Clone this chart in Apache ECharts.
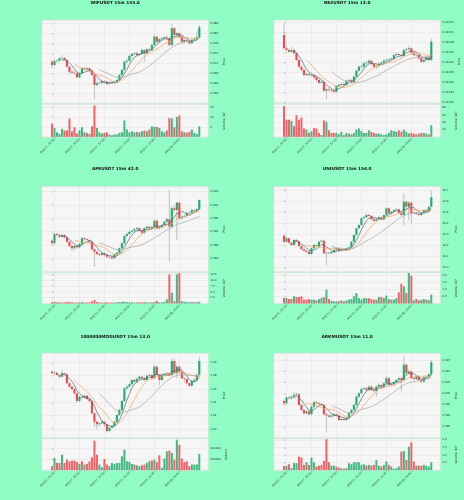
<!DOCTYPE html>
<html lang="en">
<head>
<meta charset="UTF-8">
<title>15m candles</title>
<script src="https://cdn.jsdelivr.net/npm/echarts@6.0.0/dist/echarts.min.js"></script>
<style>
    html, body { margin: 0; padding: 0; background: #8ffdc4; }
    #main { width: 464px; height: 500px; }
</style>
</head>
<body>
<div id="main"></div>
<script>
// date ticks (candle index) shared by all panels
var tickIdx = [1, 11, 21, 31, 41, 51];
var tickLabels = ['Aug 07, 12:30', 'Aug 07, 15:00', 'Aug 07, 17:30', 'Aug 07, 20:00', 'Aug 07, 22:30', 'Aug 08, 01:00'];

// WIFUSDT
var wifOpen0 = 0.9725;
var wifClose = [0.9715,0.9727,0.9728,0.9735,0.9736,0.9730,0.9710,0.9695,0.9692,0.9690,0.9678,0.9690,0.9705,0.9702,0.9705,0.9698,0.9685,0.9655,0.9660,0.9662,0.9667,0.9665,0.9658,0.9660,0.9662,0.9665,0.9670,0.9685,0.9700,0.9725,0.9728,0.9742,0.9748,0.9750,0.9745,0.9748,0.9760,0.9750,0.9762,0.9760,0.9775,0.9800,0.9785,0.9792,0.9795,0.9798,0.9795,0.9775,0.9825,0.9805,0.9810,0.9800,0.9785,0.9790,0.9788,0.9780,0.9790,0.9792,0.9798,0.9828];
var wifHigh = [0.9730,0.9732,0.9733,0.9738,0.9745,0.9739,0.9733,0.9712,0.9699,0.9697,0.9693,0.9693,0.9708,0.9709,0.9708,0.9707,0.9700,0.9688,0.9665,0.9666,0.9671,0.9670,0.9668,0.9664,0.9665,0.9668,0.9673,0.9688,0.9703,0.9728,0.9733,0.9746,0.9752,0.9754,0.9755,0.9752,0.9764,0.9763,0.9766,0.9766,0.9779,0.9805,0.9803,0.9796,0.9799,0.9802,0.9805,0.9800,0.9838,0.9829,0.9814,0.9813,0.9803,0.9794,0.9793,0.9791,0.9794,0.9796,0.9815,0.9835];
var wifLow = [0.9705,0.9712,0.9722,0.9725,0.9731,0.9727,0.9706,0.9688,0.9688,0.9686,0.9675,0.9675,0.9687,0.9699,0.9698,0.9694,0.9681,0.9612,0.9650,0.9656,0.9658,0.9661,0.9654,0.9655,0.9657,0.9659,0.9662,0.9668,0.9682,0.9697,0.9720,0.9725,0.9738,0.9744,0.9741,0.9742,0.9745,0.9725,0.9747,0.9756,0.9757,0.9772,0.9781,0.9782,0.9789,0.9791,0.9790,0.9770,0.9772,0.9800,0.9801,0.9796,0.9781,0.9782,0.9784,0.9776,0.9777,0.9786,0.9789,0.9795];
var wifVol = [6.7,4.5,2.3,1.5,4.0,3.2,3.3,9.2,2.8,4.8,1.7,3.3,4.8,2.3,2.0,1.5,5.3,15.7,4.5,2.3,1.7,2.0,2.3,1.2,0.8,1.2,1.2,2.0,2.3,8.2,3.7,2.3,2.8,2.3,2.5,2.3,2.8,3.2,2.8,3.7,5.3,5.0,5.0,4.5,2.8,2.3,3.3,9.5,9.2,4.8,10.0,10.7,2.8,2.3,2.0,2.5,3.7,2.0,1.5,5.3];

// REZUSDT
var rezOpen0 = 0.012503;
var rezClose = [0.012463,0.012458,0.012453,0.012458,0.012448,0.012428,0.012408,0.012398,0.012383,0.012386,0.012383,0.012383,0.012376,0.012368,0.012360,0.012363,0.012336,0.012340,0.012338,0.012336,0.012333,0.012350,0.012353,0.012356,0.012353,0.012366,0.012368,0.012363,0.012378,0.012396,0.012408,0.012408,0.012418,0.012420,0.012426,0.012416,0.012408,0.012410,0.012416,0.012420,0.012426,0.012428,0.012430,0.012432,0.012443,0.012446,0.012443,0.012440,0.012458,0.012460,0.012463,0.012450,0.012443,0.012443,0.012433,0.012423,0.012428,0.012436,0.012428,0.012483];
var rezHigh = [0.012536,0.012470,0.012462,0.012468,0.012462,0.012452,0.012431,0.012412,0.012401,0.012390,0.012389,0.012388,0.012386,0.012379,0.012371,0.012367,0.012366,0.012345,0.012344,0.012342,0.012340,0.012353,0.012357,0.012360,0.012360,0.012369,0.012372,0.012371,0.012381,0.012399,0.012412,0.012414,0.012422,0.012425,0.012430,0.012429,0.012419,0.012414,0.012420,0.012424,0.012430,0.012432,0.012434,0.012436,0.012447,0.012450,0.012450,0.012447,0.012462,0.012464,0.012470,0.012466,0.012453,0.012447,0.012446,0.012436,0.012431,0.012439,0.012439,0.012493];
var rezLow = [0.012460,0.012454,0.012449,0.012450,0.012444,0.012425,0.012404,0.012393,0.012379,0.012380,0.012379,0.012379,0.012372,0.012364,0.012356,0.012357,0.012332,0.012310,0.012333,0.012332,0.012329,0.012330,0.012346,0.012350,0.012349,0.012350,0.012362,0.012359,0.012360,0.012375,0.012393,0.012403,0.012405,0.012414,0.012416,0.012412,0.012404,0.012400,0.012406,0.012412,0.012416,0.012422,0.012424,0.012426,0.012429,0.012439,0.012439,0.012436,0.012437,0.012454,0.012456,0.012447,0.012439,0.012438,0.012429,0.012419,0.012420,0.012425,0.012424,0.012425];
var rezVol = [84,47,47,44,29,59,47,53,23,20,11,15,24,23,11,5,45,41,18,11,11,11,7,14,5,11,9,7,11,20,23,16,11,11,18,14,11,9,9,7,5,7,11,18,16,14,18,14,20,14,9,11,9,7,9,11,11,9,7,32];

// APEUSDT
var apeOpen0 = 0.5893;
var apeClose = [0.5885,0.5913,0.5910,0.5905,0.5910,0.5903,0.5890,0.5877,0.5870,0.5877,0.5873,0.5883,0.5900,0.5897,0.5895,0.5890,0.5867,0.5860,0.5853,0.5850,0.5855,0.5850,0.5845,0.5843,0.5840,0.5852,0.5857,0.5870,0.5885,0.5907,0.5913,0.5920,0.5923,0.5927,0.5930,0.5923,0.5917,0.5930,0.5935,0.5930,0.5933,0.5953,0.5930,0.5935,0.5940,0.5950,0.5957,0.5935,0.5990,0.5985,0.6007,0.5960,0.5965,0.5967,0.5975,0.5977,0.5985,0.5983,0.5987,0.6015];
var apeHigh = [0.5897,0.5916,0.5917,0.5914,0.5913,0.5913,0.5906,0.5893,0.5880,0.5881,0.5880,0.5886,0.5904,0.5903,0.5901,0.5898,0.5893,0.5870,0.5863,0.5857,0.5858,0.5858,0.5853,0.5848,0.5847,0.5855,0.5860,0.5873,0.5888,0.5910,0.5917,0.5924,0.5927,0.5931,0.5934,0.5933,0.5926,0.5933,0.5939,0.5938,0.5937,0.5957,0.5956,0.5939,0.5944,0.5954,0.5961,0.6045,0.5995,0.5997,0.6010,0.6010,0.5969,0.5971,0.5979,0.5981,0.5989,0.5988,0.5991,0.6017];
var apeLow = [0.5881,0.5882,0.5906,0.5901,0.5902,0.5899,0.5886,0.5873,0.5863,0.5866,0.5869,0.5870,0.5880,0.5893,0.5891,0.5886,0.5863,0.5815,0.5849,0.5846,0.5847,0.5846,0.5841,0.5839,0.5836,0.5837,0.5849,0.5854,0.5867,0.5882,0.5903,0.5909,0.5916,0.5919,0.5923,0.5919,0.5913,0.5913,0.5926,0.5926,0.5926,0.5929,0.5926,0.5926,0.5931,0.5936,0.5946,0.5830,0.5930,0.5980,0.5895,0.5955,0.5955,0.5961,0.5963,0.5971,0.5973,0.5979,0.5979,0.5983];
var apeVol = [0.6,0.8,0.5,0.5,0.4,0.5,0.6,0.7,0.5,0.4,0.4,0.5,0.6,0.4,0.4,0.5,0.9,1.5,0.6,0.5,0.4,0.4,0.5,0.4,0.4,0.4,0.5,0.6,0.7,0.8,0.6,0.5,0.5,0.4,0.4,0.5,0.5,0.6,0.5,0.4,0.5,0.6,1.1,0.5,0.5,0.7,1.8,12.5,4.6,1.0,12.5,13.0,1.0,0.7,0.6,0.5,0.6,0.5,0.6,0.7];

// UNIUSDT
var uniOpen0 = 10.285;
var uniClose = [10.234,10.264,10.225,10.204,10.249,10.240,10.195,10.165,10.153,10.144,10.123,10.174,10.204,10.195,10.234,10.243,10.129,10.135,10.129,10.141,10.159,10.174,10.153,10.165,10.159,10.174,10.183,10.234,10.294,10.354,10.384,10.444,10.453,10.474,10.465,10.435,10.423,10.435,10.453,10.435,10.474,10.534,10.489,10.504,10.519,10.525,10.495,10.474,10.594,10.549,10.585,10.489,10.495,10.483,10.474,10.495,10.519,10.504,10.549,10.633];
var uniHigh = [10.298,10.276,10.270,10.231,10.258,10.258,10.246,10.201,10.171,10.159,10.150,10.180,10.213,10.210,10.243,10.252,10.249,10.144,10.141,10.147,10.165,10.180,10.180,10.171,10.171,10.180,10.189,10.240,10.300,10.360,10.393,10.453,10.465,10.486,10.483,10.474,10.444,10.444,10.462,10.462,10.480,10.543,10.540,10.510,10.525,10.534,10.531,10.501,10.669,10.603,10.600,10.594,10.504,10.501,10.489,10.501,10.525,10.525,10.555,10.693];
var uniLow = [10.222,10.228,10.219,10.195,10.198,10.231,10.186,10.159,10.144,10.135,10.114,10.117,10.168,10.189,10.189,10.228,10.120,10.015,10.123,10.123,10.135,10.153,10.147,10.147,10.153,10.153,10.168,10.177,10.228,10.288,10.348,10.378,10.438,10.447,10.459,10.426,10.411,10.417,10.429,10.429,10.426,10.468,10.480,10.483,10.498,10.513,10.486,10.465,10.384,10.540,10.430,10.399,10.480,10.474,10.465,10.465,10.489,10.495,10.498,10.543];
var uniVol = [0.38,0.38,0.31,0.31,0.5,0.45,0.45,0.5,0.27,0.27,0.31,0.27,0.27,0.22,0.31,0.38,0.43,0.97,0.31,0.2,0.15,0.15,0.15,0.22,0.15,0.22,0.27,0.31,0.5,0.73,0.38,0.27,0.38,0.38,0.38,0.31,0.27,0.27,0.45,0.45,0.38,0.55,0.31,0.27,0.27,0.38,0.78,1.38,1.2,0.73,2.13,1.94,0.22,0.31,0.22,0.27,0.31,0.27,0.22,0.62];

// 1000000MOGUSDT
var mogOpen0 = 1.2860;
var mogClose = [1.2835,1.2845,1.2810,1.2785,1.2835,1.2820,1.2685,1.2635,1.2600,1.2535,1.2420,1.2485,1.2470,1.2500,1.2450,1.2420,1.2235,1.2110,1.2070,1.2085,1.2110,1.2070,1.1970,1.2020,1.2045,1.2110,1.2210,1.2285,1.2420,1.2610,1.2635,1.2670,1.2735,1.2710,1.2750,1.2785,1.2760,1.2735,1.2800,1.2810,1.2760,1.2935,1.2810,1.2735,1.2810,1.2820,1.2835,1.2810,1.3020,1.2835,1.2935,1.2860,1.2760,1.2750,1.2685,1.2650,1.2720,1.2735,1.2810,1.3020];
var mogHigh = [1.2880,1.2870,1.2855,1.2820,1.2885,1.2845,1.2830,1.2700,1.2650,1.2610,1.2545,1.2500,1.2500,1.2515,1.2510,1.2460,1.2430,1.2250,1.2125,1.2100,1.2125,1.2120,1.2080,1.2035,1.2060,1.2125,1.2225,1.2300,1.2435,1.2625,1.2660,1.2690,1.2750,1.2750,1.2770,1.2800,1.2795,1.2775,1.2815,1.2830,1.2825,1.2960,1.2945,1.2820,1.2825,1.2840,1.2850,1.2850,1.3060,1.3060,1.2960,1.2950,1.2870,1.2775,1.2760,1.2700,1.2735,1.2760,1.2840,1.3085];
var mogLow = [1.2820,1.2815,1.2800,1.2770,1.2775,1.2805,1.2670,1.2615,1.2585,1.2520,1.2400,1.2405,1.2455,1.2460,1.2435,1.2400,1.2220,1.2040,1.1990,1.2040,1.2070,1.2030,1.1950,1.1960,1.2005,1.2030,1.2095,1.2195,1.2270,1.2405,1.2590,1.2620,1.2655,1.2695,1.2695,1.2735,1.2745,1.2715,1.2720,1.2790,1.2745,1.2745,1.2795,1.2660,1.2720,1.2795,1.2805,1.2790,1.2795,1.2820,1.2760,1.2845,1.2745,1.2710,1.2670,1.2630,1.2640,1.2700,1.2720,1.2790];
var mogVol = [74000,228000,135000,135000,289000,135000,197000,166000,178000,178000,154000,117000,166000,105000,117000,166000,240000,548000,289000,105000,55000,209000,105000,74000,135000,117000,135000,135000,258000,381000,166000,154000,117000,105000,92000,74000,92000,105000,135000,166000,178000,197000,154000,277000,43000,215000,350000,363000,320000,197000,566000,474000,215000,154000,166000,74000,105000,105000,105000,301000];

// ARKMUSDT
var arkmOpen0 = 0.5966;
var arkmClose = [0.5955,0.5981,0.5978,0.5985,0.5993,0.5996,0.5948,0.5925,0.5910,0.5918,0.5906,0.5940,0.5960,0.5955,0.5951,0.5948,0.5906,0.5900,0.5895,0.5900,0.5906,0.5900,0.5880,0.5885,0.5880,0.5888,0.5910,0.5925,0.5948,0.5985,0.6000,0.6020,0.6023,0.6015,0.6030,0.6015,0.6011,0.6030,0.6038,0.6030,0.6045,0.6068,0.6038,0.6041,0.6050,0.6060,0.6068,0.6060,0.6128,0.6090,0.6098,0.6068,0.6065,0.6075,0.6060,0.6053,0.6071,0.6075,0.6086,0.6140];
var arkmHigh = [0.5972,0.5987,0.5988,0.5992,0.6005,0.6002,0.6001,0.5953,0.5930,0.5924,0.5923,0.5946,0.5966,0.5966,0.5961,0.5957,0.5954,0.5912,0.5906,0.5905,0.5912,0.5911,0.5905,0.5891,0.5890,0.5894,0.5916,0.5931,0.5954,0.5991,0.6006,0.6026,0.6030,0.6029,0.6036,0.6035,0.6021,0.6036,0.6044,0.6043,0.6051,0.6075,0.6073,0.6047,0.6056,0.6066,0.6074,0.6074,0.6165,0.6134,0.6106,0.6104,0.6074,0.6081,0.6080,0.6066,0.6077,0.6081,0.6092,0.6150];
var arkmLow = [0.5950,0.5950,0.5973,0.5972,0.5980,0.5989,0.5943,0.5919,0.5904,0.5905,0.5900,0.5901,0.5935,0.5950,0.5946,0.5943,0.5900,0.5825,0.5890,0.5890,0.5895,0.5895,0.5875,0.5876,0.5875,0.5875,0.5883,0.5905,0.5920,0.5943,0.5980,0.5995,0.6015,0.6010,0.6010,0.6010,0.6005,0.5985,0.6025,0.6025,0.6025,0.6040,0.6033,0.6033,0.6035,0.6045,0.6055,0.6008,0.6055,0.6084,0.6085,0.6063,0.6058,0.6060,0.6055,0.6047,0.6048,0.6066,0.6070,0.6080];
var arkmVol = [0.28,0.30,0.39,0.13,0.46,0.46,0.89,0.83,0.35,0.52,0.35,0.83,0.52,0.24,0.30,0.35,0.61,2.04,0.52,0.30,0.30,0.24,0.17,0.13,0.09,0.13,0.46,0.39,0.52,0.52,0.52,0.35,0.39,0.30,0.35,0.30,0.35,0.67,0.30,0.24,0.35,0.57,0.35,0.24,0.09,0.13,0.24,1.22,1.26,0.67,1.54,1.83,0.57,0.30,0.30,0.30,0.35,0.30,0.24,0.52];

var UP = '#1fae6c', DOWN = '#ee4a4f', WICK = '#9a9a9a';
var MA_COLORS = {5: '#4f6677', 10: '#f3a25e', 20: '#a5a5a5'};

var panels = [
    {title: 'WIFUSDT 15m 155.0', o0: wifOpen0, c: wifClose, h: wifHigh, l: wifLow, v: wifVol,
     pMin: 0.960, pMax: 0.985, pSplit: 8, dig: 3, vMax: 16.3, vSplit: 3, vName: 'Volume  10\u2077'},
    {title: 'REZUSDT 15m 13.0', o0: rezOpen0, c: rezClose, h: rezHigh, l: rezLow, v: rezVol,
     pMin: 0.012298, pMax: 0.012548, pSplit: 8, dig: 5, vMax: 89, vSplit: 4, vName: 'Volume  10\u2075'},
    {title: 'APEUSDT 15m 42.0', o0: apeOpen0, c: apeClose, h: apeHigh, l: apeLow, v: apeVol,
     pMin: 0.580, pMax: 0.6055, pInterval: 0.004, dig: 3, vMax: 13.2, vInterval: 2.5, vDig: 1, vName: 'Volume  10\u2076'},
    {title: 'UNIUSDT 15m 154.0', o0: uniOpen0, c: uniClose, h: uniHigh, l: uniLow, v: uniVol,
     pMin: 9.964, pMax: 10.729, pSplit: 8, dig: 1, vMax: 2.15, vSplit: 4, vDig: 1, vName: 'Volume  10\u2076'},
    {title: '1000000MOGUSDT 15m 13.0', o0: mogOpen0, c: mogClose, h: mogHigh, l: mogLow, v: mogVol,
     pMin: 1.187, pMax: 1.3135, pSplit: 6, dig: 2, vMax: 585000, vSplit: 3, vName: 'Volume'},
    {title: 'ARKMUSDT 15m 11.0', o0: arkmOpen0, c: arkmClose, h: arkmHigh, l: arkmLow, v: arkmVol,
     pMin: 0.58005, pMax: 0.618, pSplit: 7, dig: 3, vMax: 2.07, vSplit: 4, vDig: 1, vName: 'Volume  10\u2076'}
];

// layout of the 3x2 figure
var colLeft = [42, 274];
var plotW = 166.3;
var rows = [
    {tTop: 1, pTop: 20, pBot: 103.3, vTop: 104.3, vBot: 136.9},
    {tTop: 167, pTop: 186.7, pBot: 271.7, vTop: 272.7, vBot: 303.5},
    {tTop: 335, pTop: 353.3, pBot: 437.7, vTop: 438.7, vBot: 470.2}
];

function sma(c, n) {
    var out = [];
    for (var i = n - 1; i < c.length; i++) {
        var s = 0;
        for (var j = i - n + 1; j <= i; j++) s += c[j];
        out.push([i, s / n]);
    }
    return out;
}

function drawCandle(params, api) {
    var x = api.value(0);
    var o = api.value(1), c = api.value(2), lo = api.value(3), hi = api.value(4);
    var pO = api.coord([x, o]), pC = api.coord([x, c]);
    var pL = api.coord([x, lo]), pH = api.coord([x, hi]);
    var w = api.size([1, 0])[0] * 0.85;
    var top = Math.min(pO[1], pC[1]);
    var h = Math.max(Math.abs(pO[1] - pC[1]), 0.5);
    return {
        type: 'group',
        children: [
            {type: 'line', shape: {x1: pH[0], y1: pH[1], x2: pL[0], y2: pL[1]},
             style: {stroke: WICK, lineWidth: 0.6}},
            {type: 'rect', shape: {x: pO[0] - w / 2, y: top, width: w, height: h},
             style: {fill: c >= o ? UP : DOWN}}
        ]
    };
}

var gridLine = {show: true, lineStyle: {color: '#e3e3e3', width: 0.5}};
var tickFont = {fontSize: 2.8, color: '#333', fontFamily: 'DejaVu Sans'};

var option = {
    backgroundColor: '#8ffdc4',
    animation: false,
    textStyle: {fontFamily: 'DejaVu Sans'},
    title: [], grid: [], xAxis: [], yAxis: [], series: []
};

panels.forEach(function (p, k) {
    var L = colLeft[k % 2];
    var R = rows[Math.floor(k / 2)];
    var gi = k * 2;

    // open of each candle is the previous close
    var candles = [], vols = [];
    for (var i = 0; i < p.c.length; i++) {
        var o = i === 0 ? p.o0 : p.c[i - 1];
        candles.push([i, o, p.c[i], p.l[i], p.h[i]]);
        vols.push({value: [i, p.v[i]], itemStyle: {color: p.c[i] >= o ? UP : DOWN, opacity: 0.85}});
    }

    option.title.push({
        text: p.title, left: L + plotW / 2 - 10, top: R.tTop, textAlign: 'center', padding: 0,
        textStyle: {fontSize: 4.3, fontWeight: 'bold', color: '#111'}
    });

    option.grid.push({left: L, top: R.pTop, width: plotW, height: R.pBot - R.pTop,
        show: true, backgroundColor: '#f6f6f6', borderColor: '#dcdcdc', borderWidth: 0.5});
    option.grid.push({left: L, top: R.vTop, width: plotW, height: R.vBot - R.vTop,
        show: true, backgroundColor: '#f6f6f6', borderColor: '#dcdcdc', borderWidth: 0.5});

    var xBase = {
        type: 'value', min: -4, max: 62.6,
        axisLine: {show: false},
        splitLine: gridLine
    };
    option.xAxis.push(Object.assign({}, xBase, {
        gridIndex: gi,
        axisTick: {show: false, customValues: tickIdx},
        axisLabel: {show: false, customValues: tickIdx}
    }));
    option.xAxis.push(Object.assign({}, xBase, {
        gridIndex: gi + 1,
        axisTick: {show: true, length: 1.5, customValues: tickIdx, lineStyle: {color: '#555', width: 0.4}},
        axisLabel: Object.assign({}, tickFont, {
            customValues: tickIdx, rotate: 45, margin: 2,
            formatter: function (v) { return tickLabels[tickIdx.indexOf(Math.round(v))] || ''; }
        })
    }));

    var yPrice = {
        type: 'value', gridIndex: gi, position: 'right', min: p.pMin, max: p.pMax,
        axisLine: {show: false},
        axisTick: {show: true, length: 1.5, lineStyle: {color: '#555', width: 0.4}},
        axisLabel: Object.assign({}, tickFont, {margin: 2, showMinLabel: false, showMaxLabel: false,
            formatter: function (v) { return v.toFixed(p.dig); }}),
        splitLine: gridLine,
        name: 'Price', nameLocation: 'middle', nameGap: 14, nameRotate: 90,
        nameTextStyle: {fontSize: 3, color: '#222'}
    };
    if (p.pInterval) yPrice.interval = p.pInterval; else yPrice.splitNumber = p.pSplit;
    option.yAxis.push(yPrice);

    var yVol = {
        type: 'value', gridIndex: gi + 1, position: 'right', min: 0, max: p.vMax,
        axisLine: {show: false},
        axisTick: {show: true, length: 1.5, lineStyle: {color: '#555', width: 0.4}},
        axisLabel: Object.assign({}, tickFont, {margin: 2, showMinLabel: false, showMaxLabel: false,
            formatter: function (v) { return p.vDig ? v.toFixed(p.vDig) : String(v); }}),
        splitLine: gridLine,
        name: p.vName, nameLocation: 'middle', nameGap: 14, nameRotate: 90,
        nameTextStyle: {fontSize: 3, color: '#222'}
    };
    if (p.vInterval) yVol.interval = p.vInterval; else yVol.splitNumber = p.vSplit;
    option.yAxis.push(yVol);

    option.series.push({
        type: 'custom', xAxisIndex: gi, yAxisIndex: gi, clip: true,
        renderItem: drawCandle, encode: {x: 0, y: [1, 2, 3, 4]}, data: candles, z: 2
    });
    [5, 10, 20].forEach(function (n) {
        option.series.push({
            type: 'line', xAxisIndex: gi, yAxisIndex: gi, data: sma(p.c, n),
            showSymbol: false, symbol: 'none', silent: true, z: 3,
            lineStyle: {width: 0.7, color: MA_COLORS[n]}
        });
    });
    option.series.push({
        type: 'bar', xAxisIndex: gi + 1, yAxisIndex: gi + 1, data: vols, barWidth: 2
    });
});

var myChart = echarts.init(document.getElementById('main'));
myChart.setOption(option);
</script>
</body>
</html>
